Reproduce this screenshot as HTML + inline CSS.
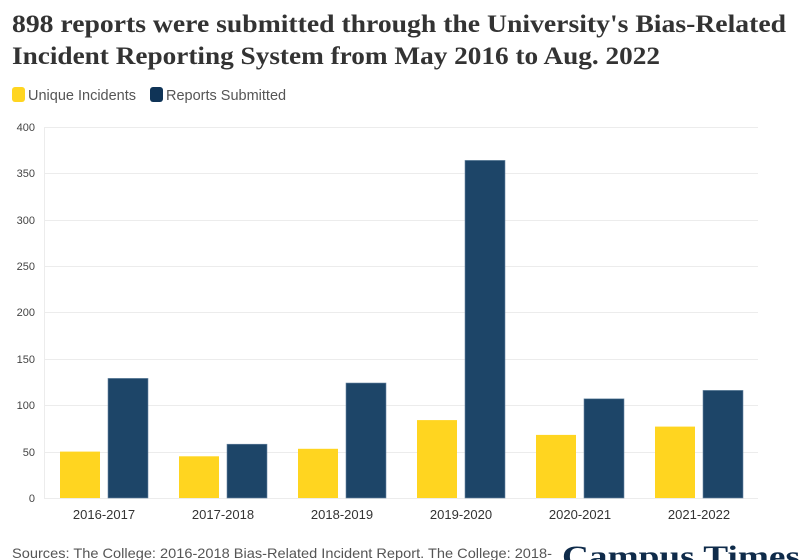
<!DOCTYPE html>
<html><head><meta charset="utf-8"><style>
body{margin:0;background:#fff;width:800px;height:560px;overflow:hidden}
svg{display:block}
</style></head><body>
<svg width="800" height="560" xmlns="http://www.w3.org/2000/svg" font-family="Liberation Sans, sans-serif">
<text x="12" y="32" font-family="Liberation Serif, serif" font-weight="bold" font-size="25" fill="#333" textLength="774" lengthAdjust="spacingAndGlyphs">898 reports were submitted through the University's Bias-Related</text>
<text x="12" y="64" font-family="Liberation Serif, serif" font-weight="bold" font-size="25" fill="#333" textLength="648" lengthAdjust="spacingAndGlyphs">Incident Reporting System from May 2016 to Aug. 2022</text>
<rect x="12" y="87" width="13" height="15" rx="3" fill="#FFD520"/>
<text x="28" y="100" font-size="14.5" fill="#555">Unique Incidents</text>
<rect x="150" y="87" width="13" height="15" rx="3" fill="#0F3457"/>
<text x="166" y="100" font-size="14.5" fill="#555">Reports Submitted</text>
<g stroke="#ececec" stroke-width="1">
<line x1="44" x2="758" y1="127.5" y2="127.5"/>
<line x1="44" x2="758" y1="173.5" y2="173.5"/>
<line x1="44" x2="758" y1="220.5" y2="220.5"/>
<line x1="44" x2="758" y1="266.5" y2="266.5"/>
<line x1="44" x2="758" y1="312.5" y2="312.5"/>
<line x1="44" x2="758" y1="359.5" y2="359.5"/>
<line x1="44" x2="758" y1="405.5" y2="405.5"/>
<line x1="44" x2="758" y1="452.5" y2="452.5"/>
<line x1="44" x2="758" y1="498.5" y2="498.5"/>
<line x1="44.5" x2="44.5" y1="127" y2="498"/>
</g>
<g font-size="11" fill="#444" text-anchor="end">
<text x="35" y="131">400</text><text x="35" y="177">350</text><text x="35" y="224">300</text>
<text x="35" y="270">250</text><text x="35" y="316">200</text><text x="35" y="363">150</text>
<text x="35" y="409">100</text><text x="35" y="456">50</text><text x="35" y="502">0</text>
</g>
<g>
<rect x="60" y="451.6" width="40" height="46.4" fill="#FFD520"/>
<rect x="108" y="378.4" width="40" height="119.6" fill="#1D4568" stroke="#6a88a3" stroke-width="0.6"/>
<rect x="179" y="456.3" width="40" height="41.7" fill="#FFD520"/>
<rect x="227" y="444.2" width="40" height="53.8" fill="#1D4568" stroke="#6a88a3" stroke-width="0.6"/>
<rect x="298" y="448.8" width="40" height="49.2" fill="#FFD520"/>
<rect x="346" y="383" width="40" height="115" fill="#1D4568" stroke="#6a88a3" stroke-width="0.6"/>
<rect x="417" y="420.1" width="40" height="77.9" fill="#FFD520"/>
<rect x="465" y="160.4" width="40" height="337.6" fill="#1D4568" stroke="#6a88a3" stroke-width="0.6"/>
<rect x="536" y="434.9" width="40" height="63.1" fill="#FFD520"/>
<rect x="584" y="398.8" width="40" height="99.2" fill="#1D4568" stroke="#6a88a3" stroke-width="0.6"/>
<rect x="655" y="426.6" width="40" height="71.4" fill="#FFD520"/>
<rect x="703" y="390.4" width="40" height="107.6" fill="#1D4568" stroke="#6a88a3" stroke-width="0.6"/>
</g>
<g font-size="13" fill="#333" text-anchor="middle">
<text x="104" y="519">2016-2017</text><text x="223" y="519">2017-2018</text><text x="342" y="519">2018-2019</text>
<text x="461" y="519">2019-2020</text><text x="580" y="519">2020-2021</text><text x="699" y="519">2021-2022</text>
</g>
<text x="12" y="558" font-size="14" fill="#555" textLength="540" lengthAdjust="spacingAndGlyphs">Sources: The College: 2016-2018 Bias-Related Incident Report. The College: 2018-</text>
<text x="562" y="566" font-family="Liberation Serif, serif" font-weight="bold" font-size="30" fill="#0F2B4A" textLength="238" lengthAdjust="spacingAndGlyphs">Campus Times</text>
</svg>
</body></html>
